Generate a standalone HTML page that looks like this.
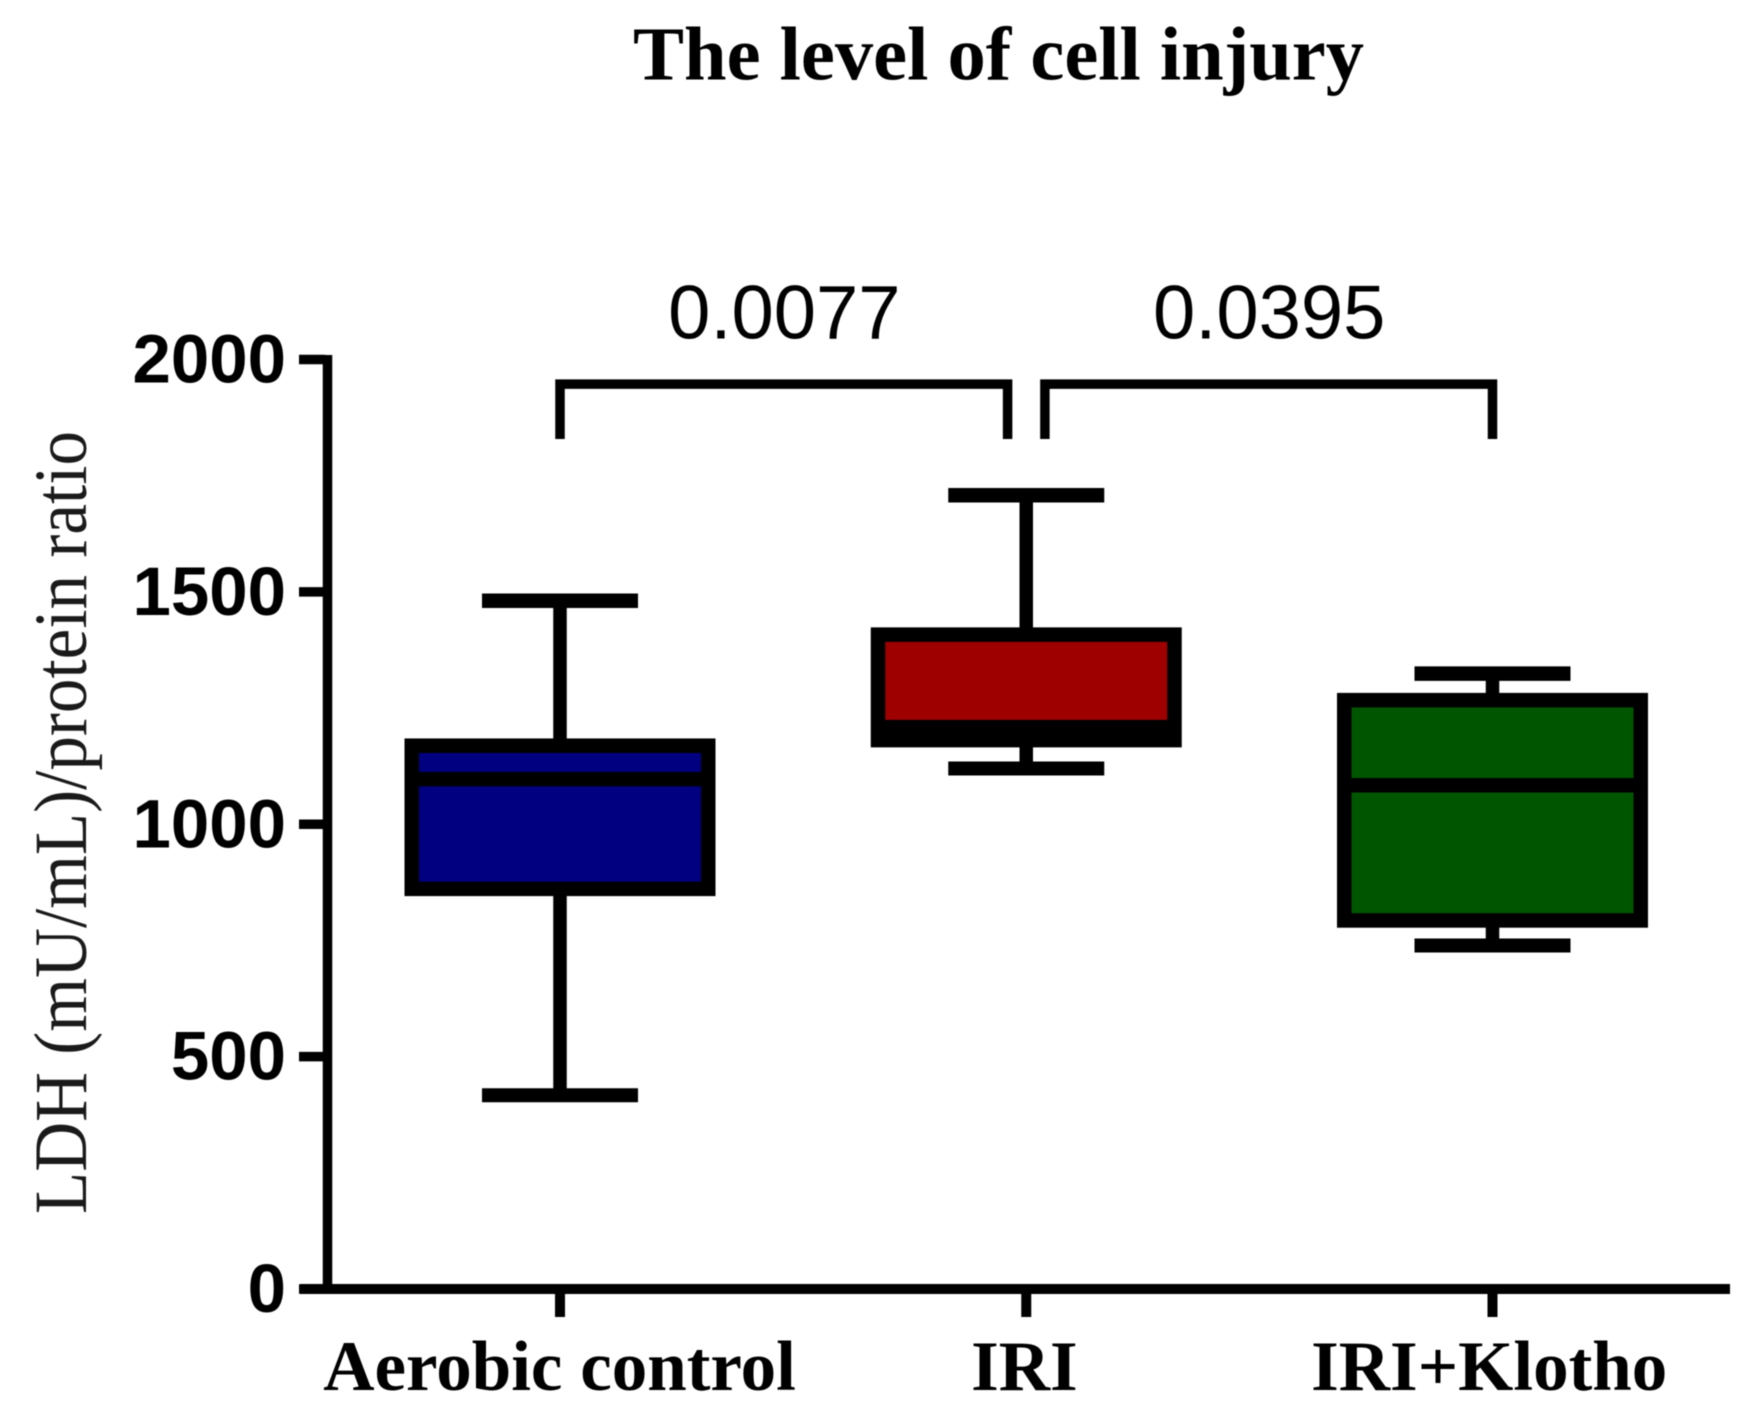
<!DOCTYPE html>
<html lang="en">
<head>
<meta charset="utf-8">
<title>The level of cell injury</title>
<style>
html,body{margin:0;padding:0;background:#fff;}
svg{display:block;filter:blur(0.5px);}
.serif{font-family:"Liberation Serif",serif;}
.sans{font-family:"Liberation Sans",sans-serif;}
</style>
</head>
<body>
<svg id="chart" xmlns="http://www.w3.org/2000/svg" width="1760" height="1422" viewBox="0 0 1760 1422">
  <rect x="0" y="0" width="1760" height="1422" fill="#ffffff"/>
  <text class="serif" x="633" y="79.5" font-size="76" font-weight="700" fill="#000" textLength="731" lengthAdjust="spacingAndGlyphs">The level of cell injury</text>
  <text class="serif" transform="translate(86,1214) rotate(-90) scale(1,1.09)" x="0" y="0" font-size="69" fill="#1a1a1a" textLength="783" lengthAdjust="spacingAndGlyphs">LDH (mU/mL)/protein ratio</text>
  <g id="marks"></g>
</svg>
<script>
var categories = ['Aerobic control', 'IRI', 'IRI+Klotho'];
var whiskerHigh = [1481, 1708, 1324];
var q3Values = [1169, 1408, 1267];
var medianValues = [1097, 1209, 1084];
var q1Values = [861, 1181, 793];
var whiskerLow = [417, 1120, 739];
var boxColors = ['#000080', '#9e0000', '#005500'];
var yTicks = [0, 500, 1000, 1500, 2000];
var bracketStarts = [0, 1.04];
var bracketEnds = [0.96, 2];
var bracketTop = [1947, 1947];
var bracketBottom = [1829, 1829];
var pValues = ['0.0077', '0.0395'];

var svgNS = 'http://www.w3.org/2000/svg';
var marks = document.getElementById('marks');

function xScale(i) { return 560 + 466.25 * i; }
function yScale(v) { return 1289 - v * (1289 - 359.5) / 2000; }

function make(tag, attrs) {
  var el = document.createElementNS(svgNS, tag);
  for (var k in attrs) { el.setAttribute(k, attrs[k]); }
  marks.appendChild(el);
  return el;
}
function line(x1, y1, x2, y2, w) {
  return make('line', { x1: x1, y1: y1, x2: x2, y2: y2, stroke: '#000', 'stroke-width': w });
}

var el;
var baseY = yScale(0);

// Axes
el = line(327.5, yScale(2000) - 4.5, 327.5, baseY + 5, 9.5);


el = line(300, baseY, 1730, baseY, 10);



// Y ticks and labels
yTicks.forEach(function (t) {
  var tick = line(299, yScale(t), 325, yScale(t), 9.5);
  
  
  var lab = make('text', { x: 286, y: yScale(t) + 23, 'text-anchor': 'end', 'font-size': 69, 'font-weight': 700, fill: '#000', 'class': 'sans' });
  lab.textContent = String(t);
  
  
});

// Category ticks, labels, boxes
categories.forEach(function (c, i) {
  var cx = xScale(i);
  var slug = c.toLowerCase().replace(/[^a-z]+/g, '-');

  var tick = line(cx, baseY, cx, 1317, 10);
  
  

  var lab = make('text', { x: cx - 0.5 - 1.4 * i, y: 1390, 'text-anchor': 'middle', 'font-size': 71, 'font-weight': 700, fill: '#000', 'class': 'serif' });
  lab.textContent = c;
  
  

  var whisker = line(cx, yScale(whiskerHigh[i]), cx, yScale(whiskerLow[i]), 13.5);
  
  

  var capHigh = line(cx - 78, yScale(whiskerHigh[i]), cx + 78, yScale(whiskerHigh[i]), 14.5);
  
  

  var capLow = line(cx - 78, yScale(whiskerLow[i]), cx + 78, yScale(whiskerLow[i]), 14);
  
  

  var box = make('rect', {
    x: cx - 148.25,
    y: yScale(q3Values[i]),
    width: 296.5,
    height: yScale(q1Values[i]) - yScale(q3Values[i]),
    fill: boxColors[i],
    stroke: '#000',
    'stroke-width': 14.5
  });
  
  

  var median = line(cx - 148, yScale(medianValues[i]), cx + 148, yScale(medianValues[i]), 14.5);
  
  
});

// Significance brackets
pValues.forEach(function (p, i) {
  var x1 = xScale(bracketStarts[i]);
  var x2 = xScale(bracketEnds[i]);
  var yTop = yScale(bracketTop[i]);
  var yBot = yScale(bracketBottom[i]);
  var path = make('path', {
    d: 'M' + x1 + ' ' + yBot + ' V' + yTop + ' H' + x2 + ' V' + yBot,
    fill: 'none',
    stroke: '#000',
    'stroke-width': 9.5
  });
  
  

  var lab = make('text', { x: (x1 + x2) / 2 + 0.5, y: 338.5, 'text-anchor': 'middle', 'font-size': 76, fill: '#000', 'class': 'sans' });
  lab.textContent = p;
  
  
});
</script>
</body>
</html>
